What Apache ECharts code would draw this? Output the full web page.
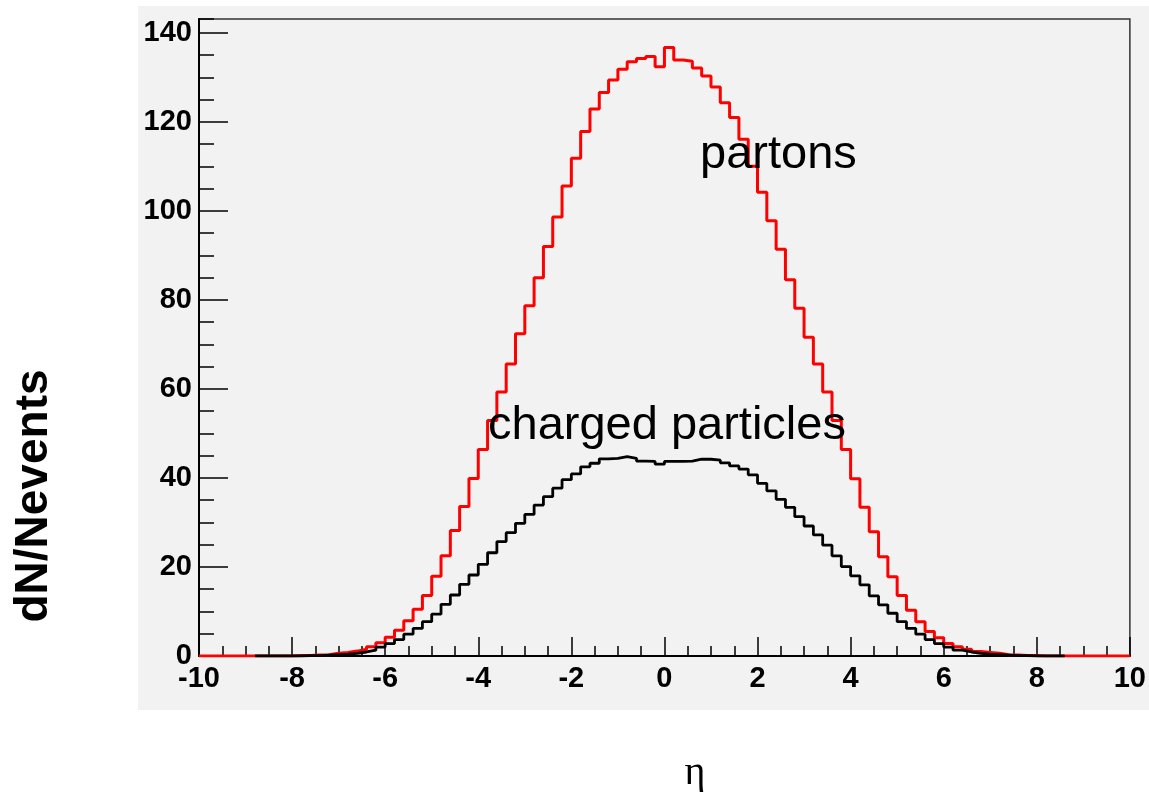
<!DOCTYPE html>
<html>
<head>
<meta charset="utf-8">
<script src="https://cdn.jsdelivr.net/npm/echarts@6/dist/echarts.min.js"></script>
<style>
  html, body { margin: 0; padding: 0; background: #ffffff; }
  #chart { width: 1149px; height: 792px; }
</style>
</head>
<body>
<div id="chart"></div>
<script>
// Histogram binning (eta from -10 to 10 in 0.2-wide bins)
const BIN_LO = -10;
const BIN_W = 0.2;
const X_TICKS = [-10, -8, -6, -4, -2, 0, 2, 4, 6, 8, 10];
const Y_TICKS = [0, 20, 40, 60, 80, 100, 120, 140];

// partons (red), one value per bin
const PARTONS = [
  0, 0, 0, 0, 0, 0, 0, 0, 0, 0,
  0.1, 0.1, 0.2, 0.3, 0.6, 0.8, 1.1, 1.5, 2.1, 3.0,
  4.2, 5.8, 7.9, 10.5, 13.6, 17.9, 22.5, 28.2, 33.6, 39.9,
  46.4, 52.9, 59.3, 65.6, 72.4, 78.7, 85.0, 92.0, 98.6, 105.6,
  111.8, 117.8, 122.9, 126.6, 129.4, 131.8, 133.5, 134.2, 134.7, 132.4,
  136.7, 133.9, 133.6, 132.1, 130.3, 127.8, 124.3, 121.0, 116.1, 110.0,
  104.2, 97.8, 91.4, 84.5, 78.1, 71.6, 65.6, 59.3, 52.9, 46.4,
  39.8, 33.4, 27.9, 22.3, 17.8, 13.6, 10.3, 7.7, 5.5, 4.1,
  2.8, 2.1, 1.5, 1.0, 0.8, 0.6, 0.3, 0.2, 0.1, 0.1,
  0, 0, 0, 0, 0, 0, 0, 0, 0, 0
];

// charged particles (black), one value per bin (null = not drawn)
const CHARGED = [
  null, null, null, null, null, null, 0, 0, 0, 0,
  0, 0.1, 0.1, 0.2, 0.3, 0.4, 0.6, 0.9, 1.3, 2.0,
  2.8, 3.7, 4.9, 6.2, 7.7, 9.4, 11.6, 13.7, 16.1, 18.2,
  20.6, 23.2, 25.7, 27.7, 29.8, 31.8, 33.9, 35.8, 37.7, 39.6,
  40.9, 42.5, 43.3, 44.3, 44.4, 44.8, 44.4, 43.8, 43.7, 43.1,
  43.7, 43.7, 43.8, 44.2, 44.2, 44.0, 43.4, 42.7, 42.0, 40.7,
  38.8, 37.1, 35.2, 33.4, 31.3, 29.2, 27.2, 24.9, 22.5, 20.1,
  18.0, 16.0, 13.5, 11.5, 9.6, 7.7, 6.2, 4.9, 3.7, 2.8,
  2.0, 1.3, 0.9, 0.6, 0.4, 0.3, 0.2, 0.1, 0.1, 0,
  0, 0, 0, null, null, null, null, null, null, null
];

const Y_MAX = 143.1;

function histPoints(values) {
  const pts = [];
  let last = -1;
  values.forEach((v, i) => {
    if (v === null) return;
    pts.push([+(BIN_LO + i * BIN_W).toFixed(4), v]);
    last = i;
  });
  pts.push([+(BIN_LO + (last + 1) * BIN_W).toFixed(4), values[last]]);
  return pts;
}

const FONT = "'Liberation Sans', Arial, Helvetica, sans-serif";

const chart = echarts.init(document.getElementById('chart'), null, { renderer: 'canvas' });

chart.setOption({
  animation: false,
  backgroundColor: '#ffffff',
  grid: {
    left: 199, right: 15, top: 19, bottom: 136,
    show: true, backgroundColor: 'rgba(0,0,0,0)',
    borderColor: '#333333', borderWidth: 1.5,
    containLabel: false
  },
  graphic: {
    elements: [
      {
        type: 'rect', z: -100, silent: true,
        shape: { x: 138, y: 6, width: 1011, height: 704 },
        style: { fill: '#f2f2f2' }
      },
      {
        type: 'text', z: 100, silent: true,
        x: 700, y: 179,
        style: { text: 'partons', font: '47px ' + FONT, fill: '#000', textAlign: 'left', textVerticalAlign: 'bottom', verticalAlign: 'bottom' }
      },
      {
        type: 'text', z: 100, silent: true,
        x: 488, y: 450,
        style: { text: 'charged particles', font: '47px ' + FONT, fill: '#000', textAlign: 'left', textVerticalAlign: 'bottom', verticalAlign: 'bottom' }
      },
      {
        type: 'text', z: 100, silent: true,
        x: 34, y: 496, rotation: Math.PI / 2,
        style: { text: 'dN/Nevents', font: 'bold 46px ' + FONT, fill: '#000', align: 'center', verticalAlign: 'middle', textAlign: 'center', textVerticalAlign: 'middle' }
      },
      {
        type: 'text', z: 100, silent: true,
        x: 695, y: 773,
        style: { text: 'η', font: "40px 'Liberation Serif', 'DejaVu Serif', serif", fill: '#000', align: 'center', verticalAlign: 'middle', textAlign: 'center', textVerticalAlign: 'middle' }
      }
    ]
  },
  xAxis: {
    type: 'value',
    min: X_TICKS[0], max: X_TICKS[X_TICKS.length - 1], interval: 2,
    axisLine: { show: true, onZero: false, lineStyle: { color: '#000', width: 2 } },
    axisTick: { show: true, inside: true, length: 19, lineStyle: { color: '#000', width: 1.5 } },
    minorTick: { show: true, splitNumber: 4, length: 10, lineStyle: { color: '#000', width: 1.5 } },
    splitLine: { show: false },
    minorSplitLine: { show: false },
    axisLabel: {
      show: true, margin: 8, color: '#000', fontSize: 29, fontWeight: 'bold', fontFamily: FONT,
      showMinLabel: true, showMaxLabel: true, hideOverlap: false,
      formatter: v => (X_TICKS.indexOf(v) >= 0 ? String(v) : '')
    }
  },
  yAxis: [
    {
      type: 'value',
      min: 0, max: Y_MAX, interval: 20,
      axisLine: { show: true, onZero: false, lineStyle: { color: '#000', width: 2 } },
      axisTick: { show: true, inside: true, length: 29, lineStyle: { color: '#000', width: 1.5 } },
      splitLine: { show: false },
      axisLabel: {
        show: true, margin: 7, color: '#000', fontSize: 29, fontWeight: 'bold', fontFamily: FONT,
        showMinLabel: true, showMaxLabel: false, hideOverlap: false,
        formatter: v => (Y_TICKS.indexOf(v) >= 0 ? String(v) : '')
      }
    },
    {
      type: 'value', position: 'left', offset: 0,
      min: 0, max: Y_MAX, interval: 5,
      axisLine: { show: false, onZero: false },
      axisTick: { show: true, inside: true, length: 15, lineStyle: { color: '#000', width: 1.5 } },
      splitLine: { show: false },
      axisLabel: { show: false }
    }
  ],
  series: [
    {
      name: 'partons', type: 'line', step: 'end',
      yAxisIndex: 0,
      data: histPoints(PARTONS),
      showSymbol: false, symbol: 'none',
      lineStyle: { color: '#ff0000', width: 3 },
      itemStyle: { color: '#ff0000' },
      z: 3
    },
    {
      name: 'charged particles', type: 'line', step: 'end',
      yAxisIndex: 0,
      data: histPoints(CHARGED),
      showSymbol: false, symbol: 'none',
      lineStyle: { color: '#000000', width: 2.8 },
      itemStyle: { color: '#000000' },
      z: 4
    }
  ]
});
</script>
</body>
</html>
